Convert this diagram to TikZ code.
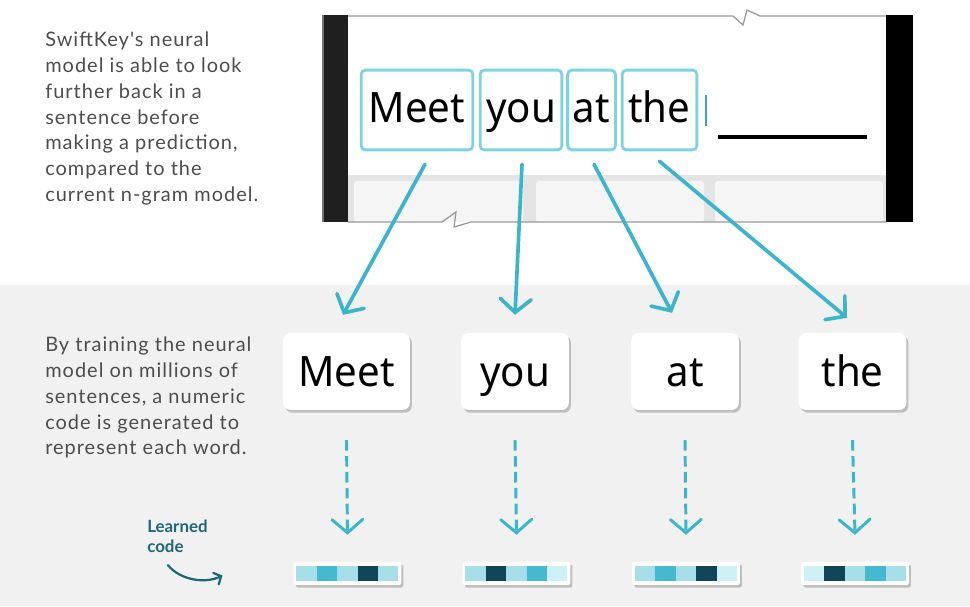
\documentclass[tikz,border=0pt]{standalone}
\usepackage{fontspec}
\setmainfont{Lato}
\newfontfamily\descfont[LetterSpace=5]{Lato}
\newfontfamily\wordfont[FakeStretch=0.96]{Noto Sans}
\usetikzlibrary{arrows.meta,calc,shadows}
\definecolor{bggray}{HTML}{F1F1F1}
\definecolor{txtgray}{HTML}{4D4D4D}
\definecolor{arrowteal}{HTML}{3AB5CC}
\definecolor{boxteal}{HTML}{7ED3E2}
\definecolor{codeteal}{HTML}{1E6777}
\definecolor{keygray}{HTML}{E4E4E4}
\definecolor{keyface}{HTML}{F5F5F5}
\definecolor{cursorblue}{HTML}{3A9FD8}
\definecolor{cellvl}{HTML}{CDF1F7}
\definecolor{celll}{HTML}{A6DFEA}
\definecolor{cellm}{HTML}{45B9D0}
\definecolor{celld}{HTML}{0F4556}

\begin{document}
\begin{tikzpicture}[x=0.025cm, y=-0.025cm,
    desc/.style={anchor=north west, inner sep=0pt, align=left, text=txtgray,
      font=\descfont\fontsize{14.2}{18.3}\selectfont},
    wordbox/.style={draw=boxteal, line width=2pt, rounded corners=3pt, minimum height=56.7pt,
      inner sep=0pt, font=\wordfont\fontsize{29.8}{30}\selectfont, text height=22.7pt, text depth=4.3pt},
    card/.style={fill=white, rounded corners=5pt, minimum height=54.6pt, minimum width=76.5pt, inner sep=0pt,
      drop shadow={shadow xshift=1.5pt, shadow yshift=-2pt, opacity=0.5, fill=black!45},
      font=\wordfont\fontsize{29.8}{30}\selectfont, text height=25pt, text depth=3pt},
    codebar/.style={fill=white, rounded corners=1.5pt, minimum width=76.5pt, minimum height=16.3pt, inner sep=0pt,
      drop shadow={shadow xshift=1.5pt, shadow yshift=-1.8pt, opacity=0.5, fill=black!45}},
    wordarrow/.style={draw=arrowteal, line width=2.6pt, line cap=round,
      -{Straight Barb[length=9.5pt,width=22pt,line cap=round]}},
    codearrow/.style={draw=arrowteal, line width=2.1pt, dash pattern=on 7.5pt off 3.8pt,
      -{Straight Barb[length=9.5pt,width=22pt,line cap=round]}}]
\useasboundingbox (0,0) rectangle (970,606);
\fill[bggray] (0,285) rectangle (970,606);

\fill[keygray] (348,175) rectangle (886,222);
\foreach \a/\b in {354/523, 536/704, 715/883}
  \fill[keyface, rounded corners=2pt] (\a,181) rectangle (\b,222);
\fill[black!88] (322,15) rectangle (348,222);
\fill[black!55] (322,15) rectangle (324,222);
\fill[black] (886,15) rectangle (913,222);
\draw[black!40, line width=0.9pt] (348,16) -- (733,16) -- (743,25) -- (747,10) -- (760,16) -- (886,16);
\draw[black!40, line width=0.9pt] (348,222) -- (442,222) -- (456,212) -- (454,227) -- (471,222) -- (886,222);

\node[wordbox, minimum width=79.4pt] (t1) at (417,110) {Meet};
\node[wordbox, minimum width=58.1pt] (t2) at (521,110) {you};
\node[wordbox, minimum width=34pt] (t3) at (591.5,110) {at};
\node[wordbox, minimum width=53.1pt] (t4) at (659.5,110) {the};
\draw[cursorblue, line width=2pt] (706,95) -- (706,126);
\draw[black, line width=2.2pt] (718,137) -- (867,137);

\node[desc] (d1) at (45,32) {SwiftKey's neural\\model is able to look\\further back in a\\sentence before\\making a prediction,\\compared to the\\current n-gram model.};
\node[desc] (d2) at (45,337) {By training the neural\\model on millions of\\sentences, a numeric\\code is generated to\\represent each word.};

\node[card, minimum width=90pt] (c1) at (346.5,371.5) {Meet};
\node[card] (c2) at (515,371.5) {you};
\node[card] (c3) at (685,371.5) {at};
\node[card] (c4) at (852.5,371.5) {the};

\draw[wordarrow] ([shift={(8,13)}]t1.south) -- ([shift={(-3.5,-18)}]c1.north);
\draw[wordarrow] ([shift={(1,13)}]t2.south) -- ([shift={(0,-18)}]c2.north);
\draw[wordarrow] ([shift={(2.5,13)}]t3.south) -- ([shift={(-13,-20)}]c3.north);
\draw[wordarrow] ([shift={(0,10)}]t4.south) -- ([shift={(-5.5,-15)}]c4.north);

\foreach \n/\cx/\ca/\cb/\cc/\cd/\ce in {1/347.5/celll/cellm/celll/celld/celll,
    2/516.5/celll/celld/celll/cellm/cellvl, 3/686/celll/cellm/celll/celld/cellvl,
    4/855/cellvl/celld/celll/cellm/celll} {
  \node[codebar] (b\n) at (\cx,573.5) {};
  \foreach \col [count=\k] in {\ca,\cb,\cc,\cd,\ce}
    \fill[\col] ($(b\n.west)+({3+20.4*(\k-1)},-7.5)$) rectangle ++(20.4,15);
  \draw[codearrow] ([shift={(0,30)}]c\n.south) -- ([shift={(0,-27)}]b\n.north);
}

\node[anchor=north west, inner sep=0pt, align=left, text=codeteal,
  font=\bfseries\fontsize{12}{14.2}\selectfont] (lc) at (147,520) {Learned\\code};
\draw[codeteal, line width=1.6pt, line cap=round, -{Straight Barb[length=4pt,width=9pt,line cap=round]}]
  ([shift={(21,12)}]lc.south west) .. controls (180,580) and (205,584) .. ([shift={(-71,2)}]b1.west);
\end{tikzpicture}
\end{document}
